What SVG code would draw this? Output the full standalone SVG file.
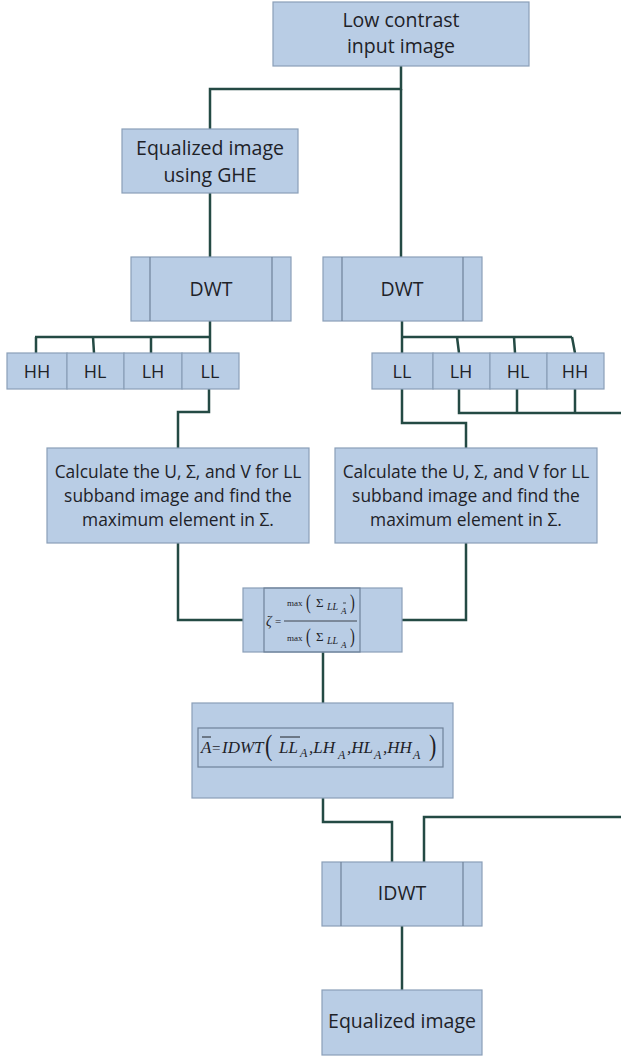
<svg xmlns="http://www.w3.org/2000/svg" width="621" height="1057" viewBox="0 0 621 1057">
<style>
.box{fill:#b9cde5;stroke:#8a9fb8;stroke-width:1.2}
.in{stroke:#6f8299;stroke-width:1.2;fill:none}
.t{font-family:"Open Sans","Liberation Sans",sans-serif;fill:#1e2228;text-anchor:middle}
.b{font-size:19.5px}
.s{font-size:18px}
.c{font-size:17.4px}
.m{font-family:"Liberation Serif",serif;font-style:italic;fill:#1e2228}
.mu{font-family:"Liberation Serif",serif;fill:#1e2228}
.con{fill:none;stroke:#244a44;stroke-width:2.5}
</style>
<rect width="621" height="1057" fill="#ffffff"/>
<g id="connectors">
<path class="con" d="M401,66 V89 H210 V129"/>
<path class="con" d="M401,89 V257"/>
<path class="con" d="M210,193 V257"/>
<path class="con" d="M210,321 V353"/>
<path class="con" d="M35,337 H210"/>
<path class="con" d="M36,337 V353 M93,337 L94,353 M151,337 V353"/>
<path class="con" d="M402,321 V353"/>
<path class="con" d="M402,337 H572"/>
<path class="con" d="M457,337 L459,353 M514,337 L515,353 M572,337 L575,353"/>
<path class="con" d="M209,389 V412 H178 V448"/>
<path class="con" d="M402,389 V423 H466 V448"/>
<path class="con" d="M459,389 V413 H621 M517,389 V413 M575,389 V413"/>
<path class="con" d="M178,543 V620 H243"/>
<path class="con" d="M466,543 V620 H402"/>
<path class="con" d="M323,652 V703"/>
<path class="con" d="M323,798 V822 H392 V862"/>
<path class="con" d="M621,817 H424 V862"/>
<path class="con" d="M402,926 V990"/>
</g>
<g id="input">
<rect class="box" x="273" y="2" width="256" height="64"/>
<text class="t b" x="401" y="27">Low contrast</text>
<text class="t b" x="401" y="53">input image</text>
</g>
<g id="ghe">
<rect class="box" x="122" y="129" width="176" height="64"/>
<text class="t b" x="210" y="155">Equalized image</text>
<text class="t b" x="210" y="182">using GHE</text>
</g>
<g id="dwt-left">
<rect class="box" x="131" y="257" width="160" height="64"/>
<path class="in" d="M150,257 V321 M272,257 V321"/>
<text class="t b" x="211" y="296">DWT</text>
</g>
<g id="dwt-right">
<rect class="box" x="323" y="257" width="159" height="64"/>
<path class="in" d="M342,257 V321 M463,257 V321"/>
<text class="t b" x="402" y="296">DWT</text>
</g>
<g id="sub-left">
<rect class="box" x="7" y="353" width="60" height="36"/>
<rect class="box" x="67" y="353" width="57" height="36"/>
<rect class="box" x="124" y="353" width="58" height="36"/>
<rect class="box" x="182" y="353" width="57" height="36"/>
<text class="t s" x="37" y="378">HH</text>
<text class="t s" x="95" y="378">HL</text>
<text class="t s" x="153" y="378">LH</text>
<text class="t s" x="210" y="378">LL</text>
</g>
<g id="sub-right">
<rect class="box" x="372" y="353" width="61" height="36"/>
<rect class="box" x="433" y="353" width="57" height="36"/>
<rect class="box" x="490" y="353" width="57" height="36"/>
<rect class="box" x="547" y="353" width="57" height="36"/>
<text class="t s" x="402" y="378">LL</text>
<text class="t s" x="461" y="378">LH</text>
<text class="t s" x="518" y="378">HL</text>
<text class="t s" x="575" y="378">HH</text>
</g>
<g id="svd-left">
<rect class="box" x="47" y="448" width="262" height="95"/>
<text class="t c" x="178" y="478">Calculate the U, Σ, and V for LL</text>
<text class="t c" x="178" y="502">subband image and find the</text>
<text class="t c" x="178" y="526">maximum element in Σ.</text>
</g>
<g id="svd-right">
<rect class="box" x="335" y="448" width="262" height="95"/>
<text class="t c" x="466" y="478">Calculate the U, Σ, and V for LL</text>
<text class="t c" x="466" y="502">subband image and find the</text>
<text class="t c" x="466" y="526">maximum element in Σ.</text>
</g>
<g id="zeta">
<rect class="box" x="243" y="588" width="159" height="64"/>
<rect x="264" y="588" width="96" height="64" fill="none" stroke="#6f8299" stroke-width="1.2"/>
<text class="m" x="266" y="626" font-size="14">ζ</text>
<text class="mu" x="275" y="625" font-size="11">=</text>
<line x1="284" y1="621" x2="357" y2="621" stroke="#1e2228" stroke-width="0.8"/>
<text class="mu" x="287" y="606" font-size="9">max</text>
<text class="mu" x="306" y="609" font-size="18" transform="translate(306,609) scale(0.8,1.2) translate(-306,-609)">(</text>
<text class="mu" x="316" y="607" font-size="13">Σ</text>
<text class="m" x="327" y="610" font-size="10">LL</text>
<text class="m" x="341" y="614" font-size="9">A</text>
<line x1="343" y1="603" x2="346" y2="603" stroke="#1e2228" stroke-width="0.8"/>
<text class="mu" x="350" y="609" font-size="18" transform="translate(350,609) scale(0.8,1.2) translate(-350,-609)">)</text>
<text class="mu" x="287" y="641" font-size="9">max</text>
<text class="mu" x="306" y="643" font-size="18" transform="translate(306,643) scale(0.8,1.2) translate(-306,-643)">(</text>
<text class="mu" x="316" y="641" font-size="13">Σ</text>
<text class="m" x="327" y="644" font-size="10">LL</text>
<text class="m" x="341" y="648" font-size="9">A</text>
<text class="mu" x="350" y="643" font-size="18" transform="translate(350,643) scale(0.8,1.2) translate(-350,-643)">)</text>
</g>
<g id="reconstruct">
<rect class="box" x="192" y="703" width="261" height="95"/>
<rect x="198" y="728" width="245" height="39" fill="none" stroke="#6f8299" stroke-width="1.2"/>
<text class="m" x="201" y="753" font-size="17">A</text>
<line x1="202" y1="737" x2="211" y2="737" stroke="#1e2228" stroke-width="1"/>
<text class="mu" x="212" y="753" font-size="15">=</text>
<text class="m" x="222" y="753" font-size="17">IDWT</text>
<text class="mu" x="265" y="755" font-size="22" transform="translate(265,755) scale(1,1.35) translate(-265,-755)">(</text>
<text class="m" x="279" y="753" font-size="17">LL</text>
<line x1="280" y1="737" x2="300" y2="737" stroke="#1e2228" stroke-width="1"/>
<text class="m" x="300" y="757" font-size="12">A</text>
<text class="m" x="309" y="753" font-size="17">,LH</text>
<text class="m" x="338" y="759" font-size="12">A</text>
<text class="m" x="347" y="753" font-size="17">,HL</text>
<text class="m" x="374" y="759" font-size="12">A</text>
<text class="m" x="383" y="753" font-size="17">,HH</text>
<text class="m" x="413" y="759" font-size="12">A</text>
<text class="mu" x="429" y="755" font-size="22" transform="translate(429,755) scale(1,1.35) translate(-429,-755)">)</text>
</g>
<g id="idwt">
<rect class="box" x="322" y="862" width="160" height="64"/>
<path class="in" d="M341,862 V926 M463,862 V926"/>
<text class="t b" x="402" y="900">IDWT</text>
</g>
<g id="output">
<rect class="box" x="322" y="990" width="160" height="65"/>
<text class="t b" x="402" y="1028">Equalized image</text>
</g>
</svg>
